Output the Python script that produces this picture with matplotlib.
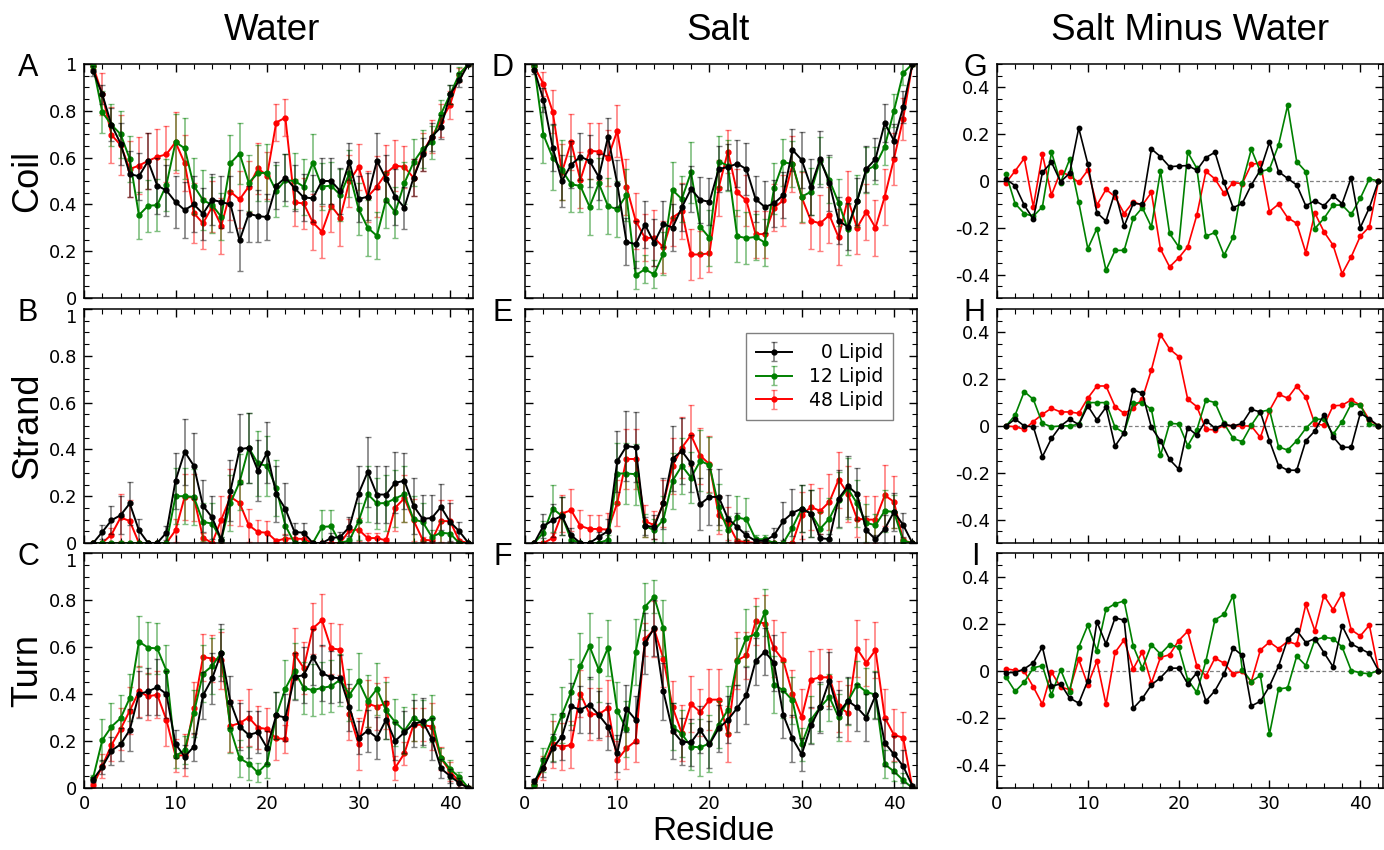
import numpy as np
import matplotlib

matplotlib.use("Agg")

import matplotlib.pyplot as plt
from matplotlib.colors import to_rgba
from matplotlib.ticker import MultipleLocator

residues = np.arange(1, 43)
series_names = ["\u20070 Lipid", "12 Lipid", "48 Lipid"]
series_colors = ["black", "green", "red"]

# ---- Coil ----
water_coil = [
    [0.97, 0.87, 0.74, 0.66, 0.53, 0.52, 0.585, 0.48, 0.46, 0.41, 0.376, 0.40, 0.36, 0.42, 0.41, 0.40, 0.246, 0.36, 0.35, 0.346, 0.48,
     0.514, 0.47, 0.43, 0.426, 0.50, 0.50, 0.457, 0.583, 0.423, 0.433, 0.586, 0.51, 0.433, 0.386, 0.514, 0.614, 0.69, 0.73, 0.87, 0.93, 1.0],
    [0.99, 0.794, 0.74, 0.70, 0.594, 0.354, 0.394, 0.397, 0.483, 0.666, 0.64, 0.479, 0.419, 0.397, 0.347, 0.576, 0.617, 0.493, 0.533, 0.536, 0.457,
     0.504, 0.50, 0.476, 0.579, 0.476, 0.48, 0.44, 0.533, 0.38, 0.30, 0.266, 0.419, 0.366, 0.49, 0.58, 0.637, 0.666, 0.786, 0.87, 0.957, 1.0],
    [0.99, 0.87, 0.697, 0.654, 0.551, 0.566, 0.586, 0.603, 0.614, 0.666, 0.576, 0.363, 0.319, 0.39, 0.309, 0.454, 0.421, 0.476, 0.554, 0.523, 0.75,
     0.771, 0.409, 0.404, 0.323, 0.283, 0.394, 0.344, 0.50, 0.56, 0.433, 0.476, 0.533, 0.566, 0.56, 0.514, 0.623, 0.69, 0.757, 0.826, 0.954, 1.0],
]
water_coil_err = [
    [0.02, 0.04, 0.07, 0.09, 0.1, 0.1, 0.12, 0.12, 0.11, 0.11, 0.12, 0.12, 0.11, 0.11, 0.11, 0.12, 0.13, 0.12, 0.11, 0.1, 0.1,
     0.1, 0.1, 0.1, 0.1, 0.1, 0.1, 0.1, 0.08, 0.1, 0.1, 0.12, 0.1, 0.12, 0.09, 0.08, 0.07, 0.06, 0.05, 0.04, 0.03, 0.01],
    [0.01, 0.09, 0.09, 0.1, 0.1, 0.1, 0.11, 0.11, 0.11, 0.12, 0.13, 0.12, 0.13, 0.12, 0.1, 0.12, 0.13, 0.12, 0.12, 0.12, 0.11,
     0.11, 0.12, 0.12, 0.12, 0.1, 0.1, 0.11, 0.1, 0.11, 0.12, 0.1, 0.12, 0.11, 0.09, 0.1, 0.08, 0.07, 0.06, 0.04, 0.03, 0.01],
    [0.01, 0.09, 0.12, 0.13, 0.12, 0.12, 0.12, 0.12, 0.12, 0.13, 0.12, 0.13, 0.11, 0.11, 0.12, 0.12, 0.12, 0.11, 0.11, 0.1, 0.08,
     0.08, 0.1, 0.11, 0.12, 0.11, 0.11, 0.12, 0.11, 0.1, 0.11, 0.13, 0.12, 0.11, 0.09, 0.08, 0.08, 0.07, 0.07, 0.06, 0.03, 0.01],
]
salt_coil = [
    [0.976, 0.847, 0.643, 0.50, 0.569, 0.604, 0.586, 0.517, 0.689, 0.489, 0.24, 0.23, 0.314, 0.236, 0.316, 0.301, 0.387, 0.466, 0.419, 0.411, 0.551,
     0.56, 0.574, 0.551, 0.423, 0.389, 0.404, 0.44, 0.633, 0.59, 0.476, 0.594, 0.49, 0.33, 0.304, 0.414, 0.551, 0.594, 0.747, 0.673, 0.816, 1.0],
    [0.99, 0.697, 0.60, 0.547, 0.486, 0.479, 0.39, 0.49, 0.393, 0.379, 0.44, 0.097, 0.123, 0.101, 0.19, 0.461, 0.423, 0.537, 0.304, 0.257, 0.583,
     0.566, 0.264, 0.256, 0.261, 0.237, 0.469, 0.58, 0.573, 0.433, 0.454, 0.586, 0.504, 0.407, 0.293, 0.414, 0.547, 0.566, 0.647, 0.80, 0.961, 1.0],
    [0.99, 0.914, 0.797, 0.537, 0.666, 0.504, 0.629, 0.626, 0.60, 0.714, 0.476, 0.33, 0.257, 0.257, 0.217, 0.344, 0.371, 0.186, 0.186, 0.191, 0.471,
     0.626, 0.451, 0.417, 0.273, 0.273, 0.386, 0.417, 0.571, 0.43, 0.33, 0.319, 0.354, 0.259, 0.423, 0.30, 0.369, 0.30, 0.433, 0.594, 0.766, 1.0],
]
salt_coil_err = [
    [0.02, 0.05, 0.1, 0.11, 0.1, 0.1, 0.11, 0.1, 0.08, 0.1, 0.1, 0.1, 0.1, 0.1, 0.1, 0.1, 0.1, 0.1, 0.1, 0.1, 0.1,
     0.1, 0.1, 0.11, 0.1, 0.11, 0.1, 0.1, 0.09, 0.12, 0.12, 0.12, 0.12, 0.1, 0.1, 0.1, 0.1, 0.09, 0.08, 0.07, 0.07, 0.01],
    [0.01, 0.12, 0.14, 0.13, 0.12, 0.11, 0.12, 0.11, 0.12, 0.12, 0.11, 0.06, 0.06, 0.06, 0.09, 0.12, 0.1, 0.13, 0.11, 0.12, 0.11,
     0.11, 0.11, 0.11, 0.1, 0.1, 0.11, 0.1, 0.1, 0.11, 0.1, 0.1, 0.1, 0.1, 0.11, 0.11, 0.1, 0.08, 0.08, 0.07, 0.05, 0.01],
    [0.01, 0.05, 0.09, 0.12, 0.12, 0.12, 0.12, 0.12, 0.12, 0.11, 0.12, 0.12, 0.1, 0.12, 0.11, 0.12, 0.12, 0.11, 0.1, 0.08, 0.12,
     0.09, 0.1, 0.11, 0.1, 0.1, 0.1, 0.11, 0.12, 0.11, 0.12, 0.12, 0.12, 0.12, 0.12, 0.11, 0.12, 0.12, 0.12, 0.11, 0.09, 0.01],
]
diff_coil = [
    [0.007, -0.02, -0.103, -0.163, 0.037, 0.08, -0.003, 0.033, 0.226, 0.073, -0.136, -0.171, -0.046, -0.193, -0.096, -0.099, 0.137, 0.104, 0.061, 0.064, 0.066,
     0.046, 0.10, 0.123, -0.006, -0.114, -0.096, -0.017, 0.047, 0.166, 0.04, 0.011, -0.017, -0.106, -0.084, -0.106, -0.063, -0.097, 0.014, -0.199, -0.114, 0.0],
    [0.029, -0.097, -0.139, -0.151, -0.11, 0.123, -0.007, 0.093, -0.091, -0.289, -0.203, -0.381, -0.297, -0.296, -0.16, -0.114, -0.196, 0.043, -0.224, -0.281, 0.123,
     0.054, -0.236, -0.22, -0.317, -0.24, -0.01, 0.136, 0.04, 0.051, 0.154, 0.323, 0.083, 0.04, -0.203, -0.16, -0.103, -0.103, -0.143, -0.074, 0.009, 0.0],
    [-0.007, 0.043, 0.097, -0.11, 0.114, -0.06, 0.04, 0.023, -0.006, 0.046, -0.103, -0.036, -0.067, -0.139, -0.089, -0.103, -0.049, -0.291, -0.367, -0.329, -0.281,
     -0.146, 0.041, 0.009, -0.053, -0.007, -0.011, 0.071, 0.077, -0.131, -0.099, -0.157, -0.181, -0.306, -0.137, -0.217, -0.274, -0.396, -0.324, -0.236, -0.196, 0.0],
]

# ---- Strand ----
water_strand = [
    [0.0, 0.047, 0.097, 0.119, 0.169, 0.054, 0.0, 0.0, 0.044, 0.266, 0.39, 0.33, 0.159, 0.109, 0.014, 0.223, 0.401, 0.407, 0.309, 0.386, 0.209,
     0.146, 0.047, 0.044, 0.0, 0.0, 0.021, 0.026, 0.069, 0.211, 0.304, 0.207, 0.207, 0.257, 0.266, 0.159, 0.103, 0.107, 0.154, 0.09, 0.05, 0.0],
    [0.0, 0.0, 0.0, 0.0, 0.0, 0.0, 0.0, 0.0, 0.0, 0.2, 0.2, 0.197, 0.09, 0.083, 0.014, 0.171, 0.261, 0.407, 0.34, 0.329, 0.236,
     0.074, 0.0, 0.0, 0.0, 0.069, 0.071, 0.0, 0.011, 0.093, 0.209, 0.169, 0.171, 0.19, 0.209, 0.101, 0.09, 0.026, 0.044, 0.04, 0.0, 0.0],
    [0.0, 0.0, 0.036, 0.109, 0.094, 0.0, 0.0, 0.0, 0.0, 0.054, 0.197, 0.194, 0.023, 0.0, 0.1, 0.197, 0.171, 0.076, 0.047, 0.044, 0.009,
     0.019, 0.019, 0.017, 0.0, 0.0, 0.0, 0.0, 0.054, 0.057, 0.021, 0.021, 0.011, 0.151, 0.191, 0.097, 0.014, 0.011, 0.094, 0.093, 0.009, 0.0],
]
water_strand_err = [
    [0.0, 0.03, 0.06, 0.08, 0.09, 0.05, 0.0, 0.0, 0.03, 0.12, 0.14, 0.14, 0.11, 0.09, 0.01, 0.13, 0.15, 0.15, 0.13, 0.13, 0.12,
     0.11, 0.04, 0.04, 0.0, 0.0, 0.02, 0.02, 0.04, 0.12, 0.15, 0.12, 0.12, 0.13, 0.12, 0.12, 0.1, 0.1, 0.1, 0.08, 0.04, 0.0],
    [0.0, 0.0, 0.0, 0.0, 0.0, 0.0, 0.0, 0.0, 0.0, 0.12, 0.12, 0.12, 0.08, 0.09, 0.01, 0.12, 0.12, 0.15, 0.14, 0.13, 0.12,
     0.08, 0.0, 0.0, 0.0, 0.07, 0.07, 0.0, 0.01, 0.08, 0.12, 0.11, 0.12, 0.12, 0.12, 0.1, 0.08, 0.03, 0.05, 0.04, 0.0, 0.0],
    [0.0, 0.0, 0.03, 0.1, 0.09, 0.0, 0.0, 0.0, 0.0, 0.05, 0.1, 0.1, 0.02, 0.0, 0.1, 0.12, 0.1, 0.07, 0.05, 0.05, 0.01,
     0.02, 0.02, 0.02, 0.0, 0.0, 0.0, 0.0, 0.05, 0.05, 0.02, 0.02, 0.01, 0.1, 0.1, 0.09, 0.01, 0.01, 0.09, 0.09, 0.01, 0.0],
]
salt_strand = [
    [0.0, 0.073, 0.097, 0.116, 0.033, 0.0, 0.0, 0.026, 0.051, 0.35, 0.414, 0.409, 0.073, 0.069, 0.169, 0.361, 0.393, 0.34, 0.166, 0.197, 0.197,
     0.104, 0.069, 0.033, 0.009, 0.009, 0.033, 0.094, 0.129, 0.147, 0.126, 0.02, 0.017, 0.19, 0.243, 0.209, 0.054, 0.016, 0.06, 0.133, 0.077, 0.0],
    [0.0, 0.044, 0.147, 0.116, 0.014, 0.0, 0.0, 0.0, 0.014, 0.297, 0.297, 0.294, 0.074, 0.054, 0.1, 0.266, 0.33, 0.279, 0.351, 0.333, 0.154,
     0.054, 0.109, 0.101, 0.016, 0.016, 0.0, 0.0, 0.066, 0.147, 0.126, 0.061, 0.104, 0.183, 0.233, 0.169, 0.086, 0.076, 0.137, 0.133, 0.009, 0.0],
    [0.0, 0.0, 0.021, 0.126, 0.14, 0.073, 0.06, 0.06, 0.057, 0.171, 0.359, 0.359, 0.094, 0.076, 0.169, 0.329, 0.407, 0.461, 0.373, 0.337, 0.119,
     0.083, 0.009, 0.004, 0.0, 0.0, 0.0, 0.0, 0.0, 0.119, 0.154, 0.137, 0.176, 0.271, 0.211, 0.104, 0.1, 0.1, 0.204, 0.176, 0.011, 0.0],
]
salt_strand_err = [
    [0.0, 0.05, 0.07, 0.08, 0.03, 0.0, 0.0, 0.02, 0.05, 0.13, 0.15, 0.15, 0.04, 0.05, 0.11, 0.14, 0.14, 0.12, 0.11, 0.12, 0.12,
     0.1, 0.06, 0.02, 0.01, 0.01, 0.03, 0.08, 0.1, 0.1, 0.1, 0.02, 0.02, 0.12, 0.13, 0.11, 0.06, 0.02, 0.06, 0.08, 0.05, 0.0],
    [0.0, 0.05, 0.1, 0.08, 0.02, 0.0, 0.0, 0.0, 0.02, 0.13, 0.13, 0.13, 0.05, 0.05, 0.1, 0.12, 0.12, 0.11, 0.13, 0.12, 0.1,
     0.06, 0.09, 0.09, 0.02, 0.02, 0.0, 0.0, 0.07, 0.1, 0.1, 0.07, 0.09, 0.12, 0.13, 0.1, 0.08, 0.05, 0.09, 0.07, 0.01, 0.0],
    [0.0, 0.0, 0.02, 0.08, 0.09, 0.07, 0.06, 0.06, 0.07, 0.1, 0.13, 0.13, 0.07, 0.06, 0.1, 0.12, 0.13, 0.13, 0.12, 0.12, 0.08,
     0.07, 0.01, 0.01, 0.0, 0.0, 0.0, 0.0, 0.0, 0.1, 0.1, 0.1, 0.12, 0.12, 0.12, 0.08, 0.1, 0.1, 0.13, 0.11, 0.01, 0.0],
]
diff_strand = [
    [0.0, 0.03, 0.0, -0.003, -0.131, -0.053, 0.0, 0.029, 0.006, 0.086, 0.026, 0.08, -0.086, -0.029, 0.154, 0.14, -0.006, -0.063, -0.143, -0.184, -0.007,
     -0.039, 0.023, -0.009, 0.007, 0.0, 0.011, 0.071, 0.06, -0.063, -0.169, -0.189, -0.189, -0.063, -0.021, 0.049, -0.046, -0.091, -0.091, 0.054, 0.031, 0.0],
    [0.0, 0.047, 0.147, 0.114, 0.011, -0.003, 0.0, 0.001, 0.007, 0.1, 0.1, 0.1, -0.006, -0.029, 0.097, 0.1, 0.071, -0.126, 0.011, 0.009, -0.084,
     -0.017, 0.111, 0.1, 0.011, -0.053, -0.067, 0.003, 0.061, 0.069, -0.089, -0.103, -0.063, -0.01, 0.029, 0.029, -0.036, 0.019, 0.094, 0.091, 0.009, 0.0],
    [0.0, -0.003, -0.014, 0.019, 0.05, 0.076, 0.06, 0.06, 0.054, 0.119, 0.171, 0.171, 0.083, 0.054, 0.076, 0.117, 0.24, 0.39, 0.329, 0.297, 0.114,
     0.083, -0.014, -0.017, 0.003, 0.0, 0.0, 0.0, -0.049, 0.066, 0.136, 0.119, 0.171, 0.123, 0.009, 0.003, 0.086, 0.089, 0.111, 0.089, 0.026, 0.0],
]

# ---- Turn ----
water_turn = [
    [0.036, 0.09, 0.159, 0.186, 0.247, 0.40, 0.411, 0.429, 0.40, 0.187, 0.133, 0.176, 0.394, 0.466, 0.576, 0.366, 0.261, 0.226, 0.237, 0.171, 0.309,
     0.30, 0.473, 0.48, 0.557, 0.489, 0.471, 0.466, 0.344, 0.214, 0.244, 0.214, 0.29, 0.20, 0.237, 0.273, 0.283, 0.209, 0.083, 0.051, 0.021, 0.0],
    [0.044, 0.204, 0.261, 0.297, 0.383, 0.623, 0.597, 0.594, 0.50, 0.136, 0.161, 0.319, 0.487, 0.519, 0.576, 0.251, 0.126, 0.104, 0.066, 0.104, 0.309,
     0.423, 0.497, 0.426, 0.416, 0.426, 0.433, 0.461, 0.397, 0.454, 0.371, 0.421, 0.33, 0.28, 0.243, 0.30, 0.276, 0.297, 0.129, 0.08, 0.047, 0.0],
    [0.011, 0.094, 0.183, 0.251, 0.329, 0.411, 0.39, 0.397, 0.29, 0.137, 0.14, 0.34, 0.557, 0.551, 0.543, 0.264, 0.276, 0.30, 0.257, 0.251, 0.211,
     0.209, 0.569, 0.511, 0.679, 0.714, 0.594, 0.589, 0.314, 0.186, 0.359, 0.346, 0.361, 0.086, 0.147, 0.269, 0.269, 0.261, 0.126, 0.071, 0.026, 0.0],
]
water_turn_err = [
    [0.01, 0.03, 0.06, 0.07, 0.09, 0.1, 0.1, 0.12, 0.1, 0.06, 0.05, 0.06, 0.1, 0.11, 0.12, 0.11, 0.1, 0.1, 0.09, 0.07, 0.1,
     0.1, 0.1, 0.12, 0.12, 0.12, 0.11, 0.1, 0.1, 0.07, 0.09, 0.09, 0.08, 0.08, 0.09, 0.1, 0.1, 0.09, 0.04, 0.03, 0.02, 0.01],
    [0.01, 0.09, 0.1, 0.1, 0.1, 0.11, 0.11, 0.11, 0.11, 0.05, 0.06, 0.1, 0.12, 0.12, 0.1, 0.1, 0.08, 0.07, 0.04, 0.06, 0.1,
     0.12, 0.12, 0.11, 0.11, 0.11, 0.11, 0.11, 0.11, 0.12, 0.11, 0.11, 0.12, 0.1, 0.1, 0.1, 0.1, 0.1, 0.04, 0.04, 0.02, 0.01],
    [0.01, 0.05, 0.07, 0.09, 0.1, 0.11, 0.1, 0.1, 0.11, 0.07, 0.09, 0.11, 0.1, 0.1, 0.12, 0.11, 0.1, 0.12, 0.09, 0.09, 0.09,
     0.06, 0.11, 0.11, 0.11, 0.11, 0.11, 0.11, 0.11, 0.11, 0.1, 0.1, 0.11, 0.05, 0.05, 0.07, 0.07, 0.1, 0.05, 0.04, 0.02, 0.01],
]
salt_turn = [
    [0.029, 0.086, 0.169, 0.219, 0.347, 0.333, 0.354, 0.311, 0.261, 0.147, 0.337, 0.29, 0.616, 0.68, 0.411, 0.243, 0.197, 0.194, 0.247, 0.186, 0.254,
     0.29, 0.34, 0.394, 0.54, 0.58, 0.533, 0.311, 0.211, 0.143, 0.266, 0.343, 0.457, 0.319, 0.371, 0.343, 0.30, 0.394, 0.193, 0.143, 0.093, 0.009],
    [0.014, 0.119, 0.214, 0.311, 0.409, 0.519, 0.603, 0.504, 0.597, 0.329, 0.25, 0.58, 0.771, 0.814, 0.68, 0.261, 0.23, 0.176, 0.173, 0.19, 0.269,
     0.333, 0.54, 0.64, 0.654, 0.747, 0.44, 0.416, 0.373, 0.187, 0.29, 0.344, 0.387, 0.301, 0.369, 0.44, 0.409, 0.397, 0.101, 0.071, 0.033, 0.0],
    [0.011, 0.086, 0.186, 0.176, 0.183, 0.401, 0.314, 0.314, 0.34, 0.119, 0.169, 0.20, 0.633, 0.676, 0.551, 0.344, 0.233, 0.357, 0.323, 0.376, 0.376,
     0.229, 0.543, 0.564, 0.709, 0.70, 0.594, 0.543, 0.401, 0.301, 0.461, 0.471, 0.471, 0.347, 0.319, 0.593, 0.533, 0.587, 0.30, 0.226, 0.214, 0.0],
]
salt_turn_err = [
    [0.01, 0.04, 0.06, 0.1, 0.1, 0.1, 0.12, 0.1, 0.1, 0.08, 0.1, 0.1, 0.13, 0.12, 0.12, 0.12, 0.1, 0.1, 0.1, 0.1, 0.1,
     0.1, 0.1, 0.12, 0.1, 0.1, 0.12, 0.1, 0.1, 0.07, 0.08, 0.11, 0.12, 0.1, 0.1, 0.1, 0.1, 0.1, 0.1, 0.08, 0.07, 0.01],
    [0.01, 0.05, 0.1, 0.12, 0.14, 0.14, 0.14, 0.14, 0.12, 0.12, 0.12, 0.14, 0.1, 0.07, 0.12, 0.1, 0.1, 0.1, 0.12, 0.12, 0.1,
     0.1, 0.1, 0.12, 0.12, 0.1, 0.12, 0.12, 0.1, 0.07, 0.1, 0.1, 0.1, 0.1, 0.1, 0.1, 0.1, 0.1, 0.06, 0.04, 0.03, 0.01],
    [0.01, 0.05, 0.1, 0.1, 0.1, 0.1, 0.11, 0.11, 0.12, 0.08, 0.09, 0.09, 0.07, 0.12, 0.12, 0.11, 0.12, 0.12, 0.1, 0.13, 0.13,
     0.12, 0.12, 0.1, 0.1, 0.12, 0.12, 0.12, 0.1, 0.12, 0.12, 0.12, 0.12, 0.11, 0.12, 0.12, 0.1, 0.12, 0.12, 0.11, 0.11, 0.01],
]
diff_turn = [
    [-0.009, -0.009, 0.007, 0.033, 0.10, -0.067, -0.057, -0.117, -0.139, -0.043, 0.207, 0.113, 0.224, 0.214, -0.161, -0.119, -0.061, -0.031, 0.01, 0.01, -0.057,
     -0.01, -0.13, -0.086, -0.017, 0.096, 0.064, -0.151, -0.131, -0.067, 0.019, 0.133, 0.171, 0.119, 0.136, 0.076, 0.016, 0.19, 0.113, 0.093, 0.073, 0.0],
    [-0.029, -0.089, -0.05, 0.011, 0.021, -0.104, 0.004, -0.09, 0.099, 0.193, 0.084, 0.261, 0.284, 0.296, 0.104, 0.01, 0.11, 0.07, 0.11, 0.099, -0.039,
     -0.093, 0.04, 0.216, 0.239, 0.319, 0.004, -0.047, -0.021, -0.271, -0.079, -0.073, 0.061, 0.021, 0.131, 0.141, 0.136, 0.10, 0.0, -0.01, -0.014, 0.0],
    [0.007, 0.001, -0.003, -0.07, -0.144, -0.007, -0.071, -0.081, 0.047, -0.061, 0.04, -0.144, 0.077, 0.13, 0.007, 0.079, -0.053, 0.056, 0.067, 0.127, 0.167,
     0.021, -0.024, 0.053, 0.031, -0.014, -0.004, -0.047, 0.087, 0.121, 0.093, 0.124, 0.111, 0.281, 0.169, 0.319, 0.259, 0.327, 0.173, 0.147, 0.193, 0.0],
]

W, H = 1384, 850
col_lr = [(84, 473), (525, 917), (997, 1383)]
row_tb = [(64, 298), (309, 543), (553, 788)]
title_font = ["Liberation Sans", "DejaVu Sans"]


def add_px_axes(fig, l, t, r, b):
    return fig.add_axes([l / W, 1 - b / H, (r - l) / W, (b - t) / H])


def style_axes(ax, diff):
    ax.set_xlim(0, 42.5)
    ax.xaxis.set_major_locator(MultipleLocator(10))
    ax.xaxis.set_minor_locator(MultipleLocator(2))
    if diff:
        ax.set_ylim(-0.5, 0.5)
        ax.set_yticks([-0.4, -0.2, 0, 0.2, 0.4])
        ax.set_yticklabels(["-0.4", "-0.2", "0", "0.2", "0.4"])
    else:
        ax.set_ylim(0, 1)
        ax.set_yticks([0, 0.2, 0.4, 0.6, 0.8, 1.0])
        ax.set_yticklabels(["0", "0.2", "0.4", "0.6", "0.8", "1"])
    ax.yaxis.set_minor_locator(MultipleLocator(0.05))
    ax.tick_params(which="both", direction="in", top=True, right=True, labelsize=13, pad=5)
    ax.tick_params(which="major", length=6, width=1)
    ax.tick_params(which="minor", length=3.5, width=0.8)
    for sp in ax.spines.values():
        sp.set_linewidth(1.1)


def draw_errs(ax, values, errs):
    for k in range(3):
        c = series_colors[k]
        ax.errorbar(residues, values[k], yerr=errs[k], color=c, ecolor=to_rgba(c, 0.5),
                    marker="o", ms=3.5, lw=1.4, elinewidth=1.2, capsize=2, capthick=1,
                    label=series_names[k], zorder=3 - k)


def draw_diff(ax, values):
    ax.axhline(0, color="gray", lw=0.9, ls="--", dashes=(3, 2), zorder=0)
    for k in range(3):
        ax.plot(residues, values[k], color=series_colors[k], marker="o", ms=3.2, lw=1.2, zorder=3 - k)


fig = plt.figure(figsize=(W / 100, H / 100), dpi=100)

panels = [
    (water_coil, water_coil_err, salt_coil, salt_coil_err, diff_coil),
    (water_strand, water_strand_err, salt_strand, salt_strand_err, diff_strand),
    (water_turn, water_turn_err, salt_turn, salt_turn_err, diff_turn),
]
letters = [["A", "D", "G"], ["B", "E", "H"], ["C", "F", "I"]]
row_names = ["Coil", "Strand", "Turn"]
legend_ax = None

for i, (wv, we, sv, se, dv) in enumerate(panels):
    t, b = row_tb[i]
    for j in range(3):
        l, r = col_lr[j]
        ax = add_px_axes(fig, l, t, r, b)
        if j == 0:
            draw_errs(ax, wv, we)
        elif j == 1:
            draw_errs(ax, sv, se)
        else:
            draw_diff(ax, dv)
        style_axes(ax, j == 2)
        if j == 1:
            ax.tick_params(labelleft=False)
        if i < 2:
            ax.tick_params(labelbottom=False)
        if j == 0 and i > 0:
            ax.yaxis.get_major_ticks()[-1].label1.set_verticalalignment("top")
        if i == 1 and j == 1:
            legend_ax = ax
        fig.text((l - 56) / W if j == 0 else (l - 22) / W, 1 - (t + 4) / H, letters[i][j],
                 family=title_font, fontsize=22, ha="center", va="center")
    fig.text(28 / W, 1 - ((t + b) / 2) / H, row_names[i], family=title_font, fontsize=26,
             rotation=90, ha="center", va="center")

leg = legend_ax.legend(loc="upper right", bbox_to_anchor=(0.94, 0.897), borderaxespad=0,
                       fontsize=13.5, fancybox=False, edgecolor="gray", framealpha=1,
                       borderpad=0.55, handlelength=1.9, handletextpad=0.9, labelspacing=0.25)
leg.get_frame().set_linewidth(1)

fig.text(272 / W, 1 - 30 / H, "Water", family=title_font, fontsize=26.5, ha="center", va="center")
fig.text(718 / W, 1 - 30 / H, "Salt", family=title_font, fontsize=26.5, ha="center", va="center")
fig.text(1190 / W, 1 - 30 / H, "Salt Minus Water", family=title_font, fontsize=26.5, ha="center", va="center")
fig.text(713 / W, 1 - 832 / H, "Residue", family=title_font, fontsize=24, ha="center", va="center")

fig.savefig("out.png", dpi=100)
